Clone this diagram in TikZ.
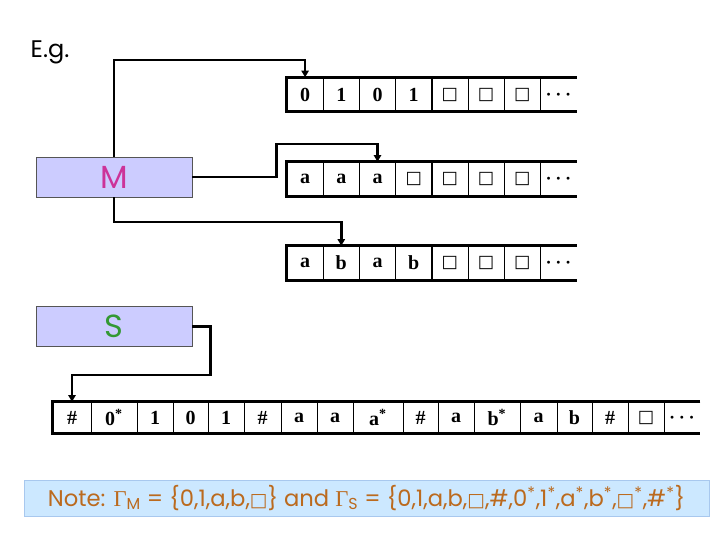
\documentclass[tikz,border=0pt]{standalone}
\usepackage{fontspec}
\setmainfont{Liberation Serif}
\newfontfamily\comicfont{Poppins}
\newfontfamily\symfont{DejaVu Sans}
\usetikzlibrary{arrows.meta,positioning,calc}
\definecolor{ink}{HTML}{000000}
\definecolor{boxfill}{HTML}{CCCCFF}
\definecolor{boxedge}{HTML}{555555}
\definecolor{mcolor}{HTML}{CC3399}
\definecolor{scolor}{HTML}{339933}
\definecolor{notefill}{HTML}{CCE8FF}
\definecolor{noteedge}{HTML}{A8C8EE}
\definecolor{notetext}{HTML}{BB6A1E}
\protected\def\blanksym{{\symfont\mdseries\fontsize{13}{13}\selectfont □}}
\protected\def\moresym{{\boldmath$\cdots$}}
\protected\def\starred#1{#1\textsuperscript{*}}
\protected\def\noteblank{{\symfont\fontsize{14}{14}\selectfont □}}

\begin{document}
\begin{tikzpicture}[x=0.75pt,y=-0.75pt,
    cell/.style={minimum width=27.15pt,minimum height=25.5pt,inner sep=0pt,
      font=\bfseries\fontsize{15}{15}\selectfont},
    bcell/.style={minimum height=23.25pt,inner sep=0pt,
      font=\bfseries\fontsize{15}{15}\selectfont},
    tapeline/.style={ink,line width=2.4pt},
    divider/.style={ink,line width=0.9pt},
    link/.style={ink,line width=1.8pt,-{Triangle[length=5pt,width=5.5pt]}},
    machine/.style={draw=boxedge,line width=0.6pt,fill=boxfill,
      minimum width=117pt,minimum height=30pt,inner sep=0pt,
      font=\comicfont\fontsize{24}{24}\selectfont}]
  \useasboundingbox (0,0) rectangle (720,540);

  \node[anchor=base west,font=\comicfont\fontsize{18}{18}\selectfont] (eg) at (26,57) {E.g.};

  % the three tapes of M
  \foreach \s [count=\i] in {0,1,0,1,\blanksym,\blanksym,\blanksym,\moresym}
    \node[cell] (t\i) at ({287+36.2*(\i-0.5)},94.5) {\s};
  \foreach \s [count=\i] in {a,a,a,\blanksym,\blanksym,\blanksym,\blanksym,\moresym}
    \node[cell] (m\i) at ({287+36.2*(\i-0.5)},179) {\s};
  \foreach \s [count=\i] in {a,b,a,b,\blanksym,\blanksym,\blanksym,\moresym}
    \node[cell] (b\i) at ({287+36.2*(\i-0.5)},263) {\s};
  \foreach \row in {t,m,b} {
    \draw[tapeline] (\row8.north east) -- (\row1.north west) -- (\row1.south west) -- (\row8.south east);
    \foreach \i in {1,...,7}
      \draw[divider] (\row\i.north east) -- (\row\i.south east);
  }

  % the one tape of S
  \foreach \l/\r/\s [count=\i] in {53/91/\#,91/137/\starred{0},137/173/1,173/208/0,
      208/244/1,244/281/\#,281/317/a,317/353/a,353/403/\starred{a},403/438/\#,
      438/474/a,474/520/\starred{b},520/557/a,557/592/b,592/628/\#,
      628/664/\blanksym,664/700/\moresym}
    \node[bcell,minimum width={(\r-\l)*0.75pt}] (s\i) at ({(\l+\r)/2},417.5) {\s};
  \draw[tapeline] (s17.north east) -- (s1.north west) -- (s1.south west) -- (s17.south east);
  \foreach \i in {1,...,16}
    \draw[divider] (s\i.north east) -- (s\i.south east);

  \node[machine,text=mcolor] (M) at (114,177) {M};
  \node[machine,text=scolor] (S) at (114,326.5) {S};

  \draw[link] (M.north) |- ($(t1.north)+(0,-17)$) -| (t1.north);
  \draw[link] (M.east) -- ++(84,0) |- ($(m3.north)+(0,-18)$) -| (m3.north);
  \draw[link] (M.south) |- ($(b2.north)+(0,-24)$) -| (b2.north);
  \draw[link] (S.east) -- ++(18,0) |- ($(s1.north)+(0,-27)$) -| (s1.north);

  \node[draw=noteedge,fill=notefill,minimum width=513.75pt,minimum height=27pt,inner sep=0pt,
    text=notetext,font=\comicfont\fontsize{17}{17}\selectfont] (note) at (366.5,498)
    {Note: {\rmfamily Γ}\textsubscript{M} = \{0,1,a,b,\noteblank\} and {\rmfamily Γ}\textsubscript{S} = \{0,1,a,b,\noteblank,\#,0\textsuperscript{*},1\textsuperscript{*},a\textsuperscript{*},b\textsuperscript{*},\noteblank\textsuperscript{*},\#\textsuperscript{*}\}};
\end{tikzpicture}
\end{document}
